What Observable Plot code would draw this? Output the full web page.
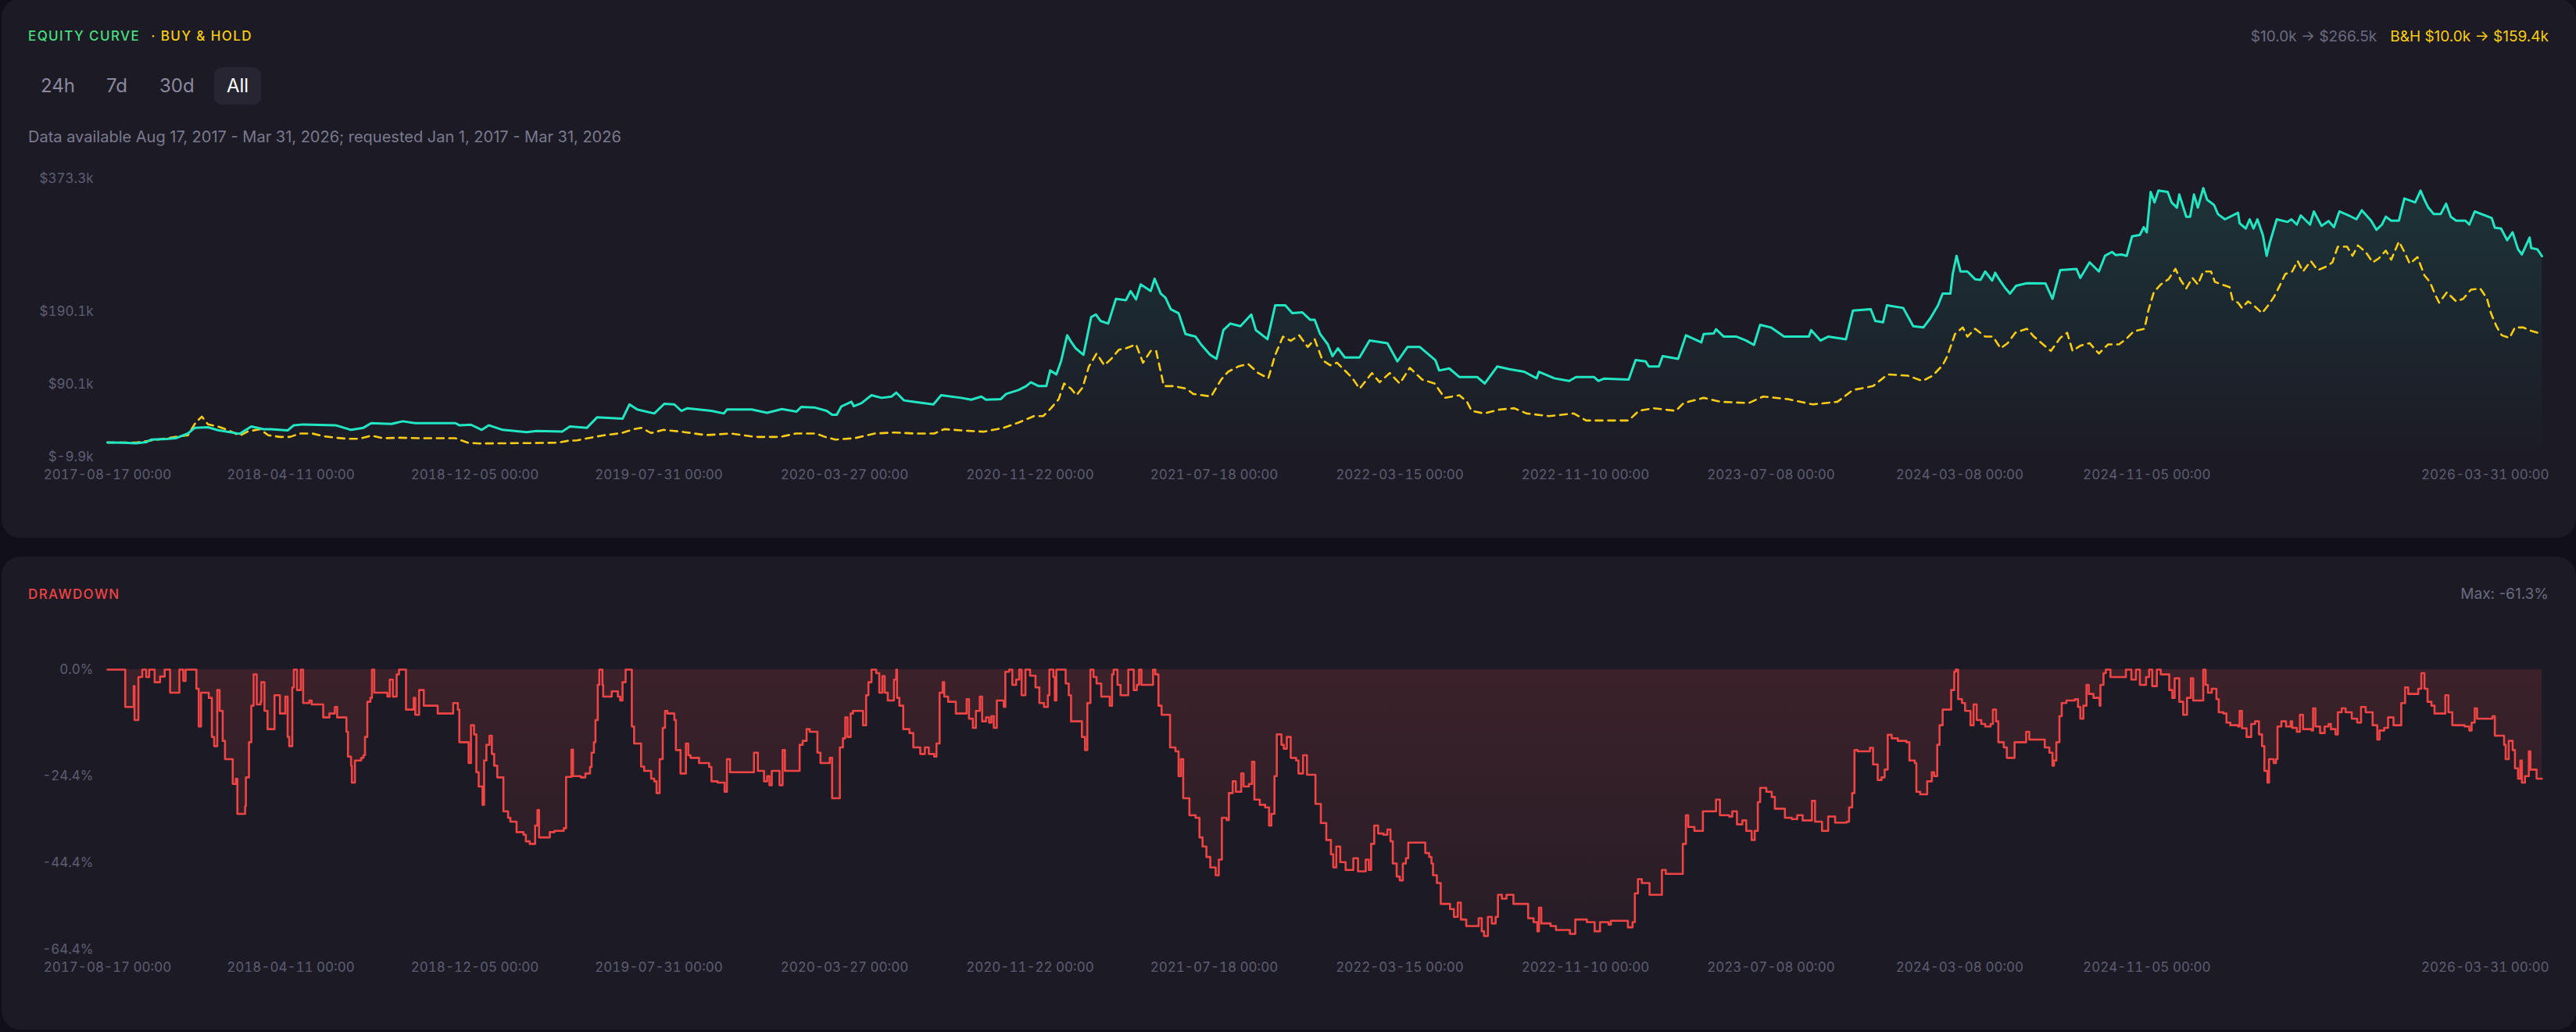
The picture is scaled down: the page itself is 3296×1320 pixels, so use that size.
<!DOCTYPE html>
<html>
<head>
<meta charset="utf-8">
<script src="https://cdn.jsdelivr.net/npm/d3@7"></script>
<script src="https://cdn.jsdelivr.net/npm/@observablehq/plot@0.6"></script>
<style>
  html, body { margin: 0; padding: 0; background: #111019; overflow: hidden; }
  body { width: 3296px; height: 1320px; position: relative; font-family: Inter, "Noto Sans", sans-serif; }
  .panel { position: absolute; left: 2px; width: 3294px; background: #1c1b25; border-radius: 24px; }
  .abs { position: absolute; white-space: nowrap; }
  .title { font-size: 17px; line-height: 18px; letter-spacing: 1.4px; font-weight: 500; }
  .btn { position: absolute; top: 86px; height: 48px; line-height: 48px; padding: 0 16px; font-size: 24px; color: #8a899e; border-radius: 10px; box-sizing: border-box; }
  .btn.active { background: #262531; color: #ffffff; }
  .plotwrap { position: absolute; left: 0; }
</style>
</head>
<body>
<div class="panel" style="top:-2px;height:690px;"></div>
<div class="panel" style="top:712px;height:605px;"></div>

<div class="abs title" style="left:36px;top:37px;"><span style="color:#4ade80">EQUITY CURVE</span><span style="color:#facc15;margin-left:14px">· BUY &amp; HOLD</span></div>
<div class="abs" style="right:35px;top:37px;font-size:19px;line-height:20px;"><span style="color:#6b6a80">$10.0k → $266.5k</span><span style="color:#facc15;margin-left:17px">B&amp;H $10.0k → $159.4k</span></div>

<div class="btn" style="left:36px;">24h</div>
<div class="btn" style="left:120px;">7d</div>
<div class="btn" style="left:188px;">30d</div>
<div class="btn active" style="left:274px;">All</div>

<div class="abs" style="left:36px;top:164px;font-size:20px;line-height:22px;color:#7a798e;">Data available Aug 17, 2017 - Mar 31, 2026; requested Jan 1, 2017 - Mar 31, 2026</div>

<div class="abs title" style="left:36px;top:751px;color:#ef4444;">DRAWDOWN</div>
<div class="abs" style="right:35px;top:750px;font-size:19px;line-height:20px;color:#6b6a80;">Max: -61.3%</div>

<div id="equity" class="plotwrap" style="top:200px;"></div>
<div id="drawdown" class="plotwrap" style="top:820px;"></div>

<script>
// ---------- DATA (days since 2017-08-17) ----------
const startDate = "2017-08-17";

const strategyDays = [0,21,37,50,57,76,88,104,113,130,143,171,186,202,212,233,241,253,295,315,331,341,367,382,398,450,455,470,484,493,511,542,555,588,598,620,633,666,675,685,707,720,733,742,750,781,797,801,833,853,872,891,897,914,930,937,943,949,962,965,975,988,1001,1014,1020,1030,1043,1068,1078,1104,1117,1130,1136,1155,1162,1178,1188,1194,1204,1214,1219,1227,1233,1241,1246,1252,1262,1272,1278,1284,1294,1304,1317,1323,1330,1336,1349,1354,1362,1368,1375,1385,1394,1407,1414,1426,1434,1443,1452,1465,1479,1485,1500,1510,1523,1532,1545,1555,1561,1568,1578,1584,1591,1600,1619,1632,1655,1668,1681,1697,1717,1722,1735,1748,1771,1781,1797,1813,1832,1848,1851,1871,1890,1899,1922,1928,1935,1967,1976,1989,1993,2006,2011,2031,2041,2061,2064,2077,2080,2090,2106,2119,2129,2137,2151,2168,2200,2203,2215,2225,2248,2257,2280,2286,2296,2301,2322,2335,2348,2357,2367,2373,2383,2386,2391,2396,2405,2415,2422,2428,2437,2441,2446,2453,2460,2468,2482,2506,2515,2525,2546,2551,2563,2575,2583,2592,2597,2604,2611,2618,2628,2633,2637,2642,2647,2652,2664,2669,2676,2679,2688,2693,2698,2703,2710,2715,2724,2729,2738,2755,2757,2765,2770,2775,2780,2787,2792,2796,2805,2819,2824,2831,2836,2848,2853,2863,2872,2879,2886,2898,2908,2915,2927,2934,2941,2946,2953,2963,2970,2984,2991,2996,3001,3008,3017,3024,3030,3037,3049,3054,3061,3083,3087,3095,3103,3110,3117,3122,3132,3134,3142,3148];
const strategyEquityK = [10.0,9.8,9.0,10.5,14.1,14.8,15.9,22.4,30.3,31.0,27.0,22.0,32.0,28.4,28.4,26.7,33.8,34.9,33.8,27.4,30.3,36.7,35.6,39.2,36.7,36.7,33.8,34.5,27.4,33.8,27.4,24.2,26.0,25.2,32.0,30.3,44.6,42.8,62.5,55.4,50.0,63.3,62.5,53.6,57.2,53.6,50.0,55.4,55.4,51.0,56.0,52.5,59.0,58.3,53.6,48.2,48.2,59.7,66.1,60.0,64.3,75.1,71.5,73.3,78.7,68.0,66.1,62.5,75.1,71.5,69.0,73.3,69.0,69.7,76.9,82.3,87.7,93.0,87.7,87.7,109.2,103.8,121.7,157.6,148.7,139.7,130.7,182.7,186.3,177.4,173.8,207.8,206.0,218.6,207.0,227.6,218.6,235.5,215.0,209.6,193.5,188.1,159.4,155.8,145.1,130.7,125.3,164.8,173.8,170.2,186.3,164.8,152.2,198.9,198.9,188.1,189.2,179.1,179.1,159.4,145.1,128.9,139.7,127.1,127.1,150.4,146.8,121.7,141.5,141.5,123.5,109.2,112.0,100.2,100.2,91.3,114.6,111.0,107.4,98.4,107.4,98.4,94.8,100.2,100.2,94.8,98.0,96.6,123.5,121.7,114.6,114.6,128.9,125.3,157.6,147.9,159.4,160.1,165.9,155.8,156.0,150.4,144.3,172.0,168.4,155.8,155.8,164.8,150.4,155.8,152.2,191.7,193.5,177.3,175.6,198.9,195.3,170.2,168.4,180.9,198.9,215.0,215.0,242.0,267.1,245.5,245.5,234.8,234.0,245.5,233.0,243.7,234.8,224.0,215.0,225.8,229.4,229.0,207.8,247.3,249.1,236.6,258.1,245.5,267.1,272.4,268.0,268.9,267.0,294.0,295.8,306.5,299.4,355.0,340.6,356.8,355.0,340.6,333.4,351.4,320.9,320.9,351.4,333.4,360.3,344.2,337.0,324.5,317.3,326.3,311.9,304.7,317.3,304.7,317.3,295.8,267.1,285.0,317.3,313.7,317.3,310.1,322.7,310.1,328.1,308.3,315.0,306.5,328.1,322.7,317.3,329.8,315.5,302.9,310.1,320.9,315.5,315.5,346.0,340.6,356.8,344.2,333.4,324.5,324.5,338.8,320.9,315.5,315.5,310.1,328.1,319.1,305.8,304.7,288.6,299.4,276.0,268.9,292.2,277.8,276.0,266.5];

const holdDays = [0,37,65,88,104,114,122,130,143,157,171,181,197,208,223,236,249,265,281,295,310,326,341,357,378,403,450,466,481,560,583,595,607,639,665,681,690,703,719,742,774,806,838,870,890,916,928,941,966,992,1018,1043,1069,1082,1114,1133,1159,1178,1198,1210,1220,1230,1237,1246,1253,1261,1269,1279,1289,1298,1308,1317,1330,1339,1349,1356,1366,1379,1395,1404,1427,1440,1449,1462,1475,1488,1501,1510,1520,1530,1541,1552,1561,1571,1581,1590,1600,1610,1619,1635,1645,1658,1671,1684,1700,1716,1729,1748,1758,1764,1780,1800,1819,1835,1864,1896,1912,1967,1980,1999,2028,2038,2064,2086,2122,2141,2173,2205,2237,2257,2283,2302,2328,2347,2360,2373,2379,2389,2399,2405,2415,2428,2438,2448,2457,2467,2482,2491,2501,2513,2525,2534,2541,2551,2563,2575,2587,2601,2610,2620,2634,2639,2646,2655,2665,2674,2681,2688,2696,2703,2710,2720,2725,2734,2744,2748,2755,2760,2768,2777,2786,2794,2801,2808,2816,2825,2832,2839,2849,2858,2870,2877,2884,2896,2903,2910,2920,2929,2937,2946,2953,2963,2970,2977,2987,2996,3003,3010,3015,3025,3037,3046,3056,3068,3077,3082,3089,3096,3106,3113,3124,3131,3148];
const holdEquityK = [10.0,10.0,14.0,17.7,20.0,37.4,45.7,35.0,32.0,26.7,19.5,25.0,28.4,20.0,17.7,17.7,22.4,22.4,18.4,16.6,15.2,15.2,19.5,15.9,16.6,15.9,15.9,9.8,8.7,9.4,9.8,12.3,13.0,19.5,23.1,28.4,30.2,23.1,27.4,24.9,20.2,22.4,17.7,17.7,22.4,22.4,17.7,14.1,15.9,22.4,23.8,22.4,22.4,28.4,26.0,24.9,30.3,37.4,46.4,46.4,57.2,69.7,91.3,84.1,75.1,85.9,114.6,132.5,116.4,125.3,137.9,139.7,145.1,119.9,136.1,136.1,87.7,87.7,84.1,76.9,73.3,96.6,107.4,114.6,118.2,105.6,98.4,130.7,155.8,150.0,157.6,141.5,152.2,123.5,116.4,119.9,109.2,98.4,84.1,105.6,93.0,105.6,91.3,112.8,96.6,91.3,71.5,75.1,66.1,53.6,50.0,55.4,57.2,50.0,46.4,50.0,40.3,40.3,53.6,57.2,53.6,64.3,71.5,66.1,64.3,73.3,69.7,62.5,66.1,82.3,87.7,103.8,102.0,94.8,102.0,116.4,128.9,159.4,168.4,155.8,166.6,155.8,155.8,139.7,146.8,161.2,166.6,155.8,146.8,136.1,154.0,161.2,136.1,143.3,146.8,132.5,145.1,145.1,152.2,163.0,166.6,191.7,216.8,227.6,234.8,249.1,233.0,222.2,236.6,227.6,245.5,245.5,231.2,227.6,224.0,206.0,202.5,195.3,204.3,197.1,188.1,198.9,209.6,224.0,241.9,245.5,259.9,245.5,259.9,247.3,252.7,258.1,279.6,279.6,267.1,281.4,272.4,258.1,263.5,274.2,261.7,286.8,272.4,256.3,265.3,240.1,231.2,213.2,202.5,216.8,204.3,207.8,220.4,222.2,207.8,188.1,170.2,157.6,154.0,168.4,168.4,164.8,159.4];

const drawdownDays = [0,23,34,35,40,45,50,54,61,68,74,81,93,98,101,115,118,121,131,135,138,142,145,149,152,162,166,168,178,179,183,186,189,193,198,199,203,207,216,223,230,233,235,239,241,245,250,253,261,264,279,287,294,297,309,311,315,316,320,328,331,333,336,340,342,345,362,365,369,374,377,386,396,398,403,409,427,447,453,455,467,470,474,477,480,485,487,490,494,497,500,504,512,518,521,529,538,541,546,553,556,558,572,578,590,593,600,602,612,618,624,626,629,631,634,636,640,641,652,660,663,666,670,678,681,690,694,703,707,710,714,718,721,724,733,735,741,748,751,754,765,778,781,789,798,801,805,836,841,849,853,856,859,869,873,876,895,899,904,908,918,922,934,937,947,951,954,957,961,964,977,981,984,988,994,998,1002,1005,1009,1017,1020,1021,1024,1029,1037,1042,1051,1057,1062,1069,1072,1076,1080,1082,1087,1097,1111,1114,1119,1123,1128,1131,1136,1140,1143,1146,1150,1159,1161,1166,1170,1175,1179,1182,1187,1193,1200,1205,1211,1216,1218,1223,1225,1227,1239,1243,1246,1260,1264,1267,1271,1275,1279,1285,1296,1299,1301,1306,1310,1320,1327,1331,1334,1337,1352,1355,1359,1363,1374,1381,1385,1388,1391,1399,1407,1412,1416,1421,1426,1433,1437,1441,1447,1450,1455,1459,1466,1469,1476,1480,1483,1490,1497,1502,1505,1509,1512,1518,1521,1525,1530,1537,1540,1546,1551,1562,1569,1576,1582,1585,1589,1594,1601,1611,1617,1627,1631,1634,1638,1643,1650,1655,1659,1662,1667,1671,1675,1679,1682,1704,1709,1712,1714,1719,1724,1736,1741,1746,1750,1757,1773,1777,1780,1785,1790,1795,1798,1803,1809,1818,1837,1844,1849,1851,1854,1866,1873,1891,1898,1913,1923,1930,1941,1944,1966,1972,1975,1979,1984,1994,2010,2015,2037,2041,2044,2052,2063,2080,2085,2097,2101,2107,2114,2119,2126,2130,2134,2137,2145,2152,2156,2169,2178,2185,2192,2204,2208,2217,2225,2234,2249,2252,2256,2259,2263,2279,2283,2289,2294,2298,2302,2307,2315,2326,2330,2337,2339,2344,2353,2359,2362,2366,2369,2373,2384,2388,2390,2393,2398,2402,2409,2413,2417,2423,2428,2435,2438,2442,2445,2452,2456,2466,2481,2485,2505,2511,2515,2517,2520,2524,2527,2533,2544,2548,2551,2555,2559,2562,2568,2576,2577,2581,2584,2590,2610,2617,2623,2628,2636,2640,2644,2650,2655,2666,2670,2673,2679,2684,2689,2694,2697,2710,2713,2716,2721,2727,2730,2736,2740,2745,2755,2757,2760,2766,2772,2777,2782,2786,2789,2793,2795,2801,2804,2806,2811,2817,2823,2825,2831,2835,2839,2850,2852,2855,2861,2867,2872,2875,2881,2884,2889,2894,2902,2909,2914,2920,2929,2935,2938,2944,2949,2956,2966,2971,2975,2988,2992,2996,3000,3005,3009,3023,3027,3032,3048,3054,3057,3061,3064,3084,3087,3099,3101,3105,3110,3113,3117,3120,3122,3126,3131,3133,3141,3148];
const drawdownPct = [0,-8.6,-3.8,-11.6,-1.7,0,-1.7,0,-2.9,-1.6,0,-5.3,0,-2.6,0,-4.4,-13.1,-5.3,-6.5,-15.5,-17.6,-4.7,-9.5,-16.4,-20.6,-26.3,-25.1,-33.2,-31.4,-24.8,-16.7,-8.3,-1.1,-8,-7.4,-2.9,-9.5,-13.7,-5.9,-10.1,-6.2,-15.5,-17.6,-4.1,0,-4.7,0,-7.7,-7.1,-8,-11,-10.1,-8.6,-11,-14.3,-20,-22.1,-26,-20.9,-20.3,-19.7,-15.5,-7.4,-6.5,0,-5.3,-6.2,-2.3,-6.2,-1.1,0,-9.2,-6.5,-10.4,-4.7,-8.3,-10.1,-7.7,-9.2,-16.7,-21.5,-12.8,-14.9,-23.6,-26.9,-31.1,-20.9,-17.3,-15.2,-19.4,-22.1,-24.8,-32.6,-34.1,-35,-37.4,-38,-39.5,-40.1,-35.9,-32.3,-38.6,-37.4,-37.1,-36.5,-24.7,-18.4,-24.5,-24.8,-23.9,-22.4,-19.1,-16.7,-11.6,-3.5,0,-3.5,-6.2,-5,-6.2,-7.1,-2.9,0,-13.1,-17,-22.3,-23.3,-25.1,-25.7,-28.4,-20.6,-13.4,-9.5,-10.1,-11.6,-18.5,-23.9,-17,-19.7,-20.3,-21.5,-22.4,-25.7,-26,-28.1,-20.6,-23.6,-19.1,-23.3,-25.7,-24.5,-26.6,-23.3,-26.6,-18.5,-23.3,-17.3,-16.4,-13.7,-14.3,-19.1,-21.5,-20.3,-29.6,-17.9,-15.8,-11,-15.5,-10.1,-9.5,-12.8,-5.9,-2.9,0,-0.8,-5.3,-1.5,-5.3,-7.1,-2.3,0,-6.5,-8.3,-13.7,-14.6,-17.9,-19.4,-17.9,-19.4,-20,-17,-5.3,-2.9,-6.2,-7.4,-10.1,-6.8,-11.3,-13.4,-9.5,-6.2,-11.9,-11,-12.2,-10.7,-13.4,-7.1,-8.6,-0.5,0,-3.5,-2.3,0,-5.9,0,-1.4,-4.1,-7.7,-8.6,-5.9,0,-1.7,-7.1,0,-3.2,-5.9,-11.9,-15.5,-18.5,-7.7,0,-1.7,-3.2,-6.2,-8.3,-1.1,0,-3.5,-5.9,0,-4.7,-3.5,0,-3.5,0,-1.1,-8.3,-10.4,-17.9,-18.8,-24.5,-20.6,-29.6,-33.5,-34.1,-38.6,-40.7,-43.1,-45.5,-47.3,-43.7,-34.1,-34.6,-28.4,-25.7,-28.1,-23.9,-26.9,-26.3,-21.2,-29.9,-31.1,-31.7,-35.9,-33.2,-24.5,-14.9,-17.3,-18.2,-15.5,-20.3,-20.9,-23.9,-19.7,-24.2,-30.9,-35.3,-39.2,-42.5,-45.5,-40.7,-44.3,-46.1,-43.4,-46.4,-43.7,-46.1,-40.1,-35.9,-37.7,-38,-36.8,-39.5,-44.6,-47.6,-48.5,-44.6,-43.4,-39.8,-42.2,-43.1,-44.6,-47.3,-49.1,-53.9,-55.1,-56.9,-53.6,-57.5,-59,-57.2,-60.2,-61.3,-56.9,-58.4,-56.9,-51.8,-52.7,-51.8,-53.9,-57.2,-58.1,-60.2,-54.8,-58.4,-59,-59.9,-60.8,-57.5,-58.1,-60.2,-58.1,-58.7,-57.8,-59.3,-58.1,-51.5,-48.2,-49.1,-51.8,-46.1,-47,-40.1,-33.5,-36.2,-37.1,-32.6,-29.9,-33.5,-33.8,-32.6,-35.6,-34.7,-37.1,-39.2,-37.1,-30.5,-27.2,-28.1,-29.3,-32,-34.1,-34.4,-33.5,-34.7,-30.2,-35,-37.1,-33.8,-35.2,-35,-31.7,-28.4,-18.5,-18.8,-18,-21.8,-25.4,-24.8,-23,-15,-15.8,-16.4,-16.7,-20.9,-21.5,-28.1,-28.7,-25.7,-23.6,-24.5,-17.3,-12.8,-9.2,-4.7,-0.5,0,-6.8,-7.7,-9.5,-12.8,-8,-11.6,-12.5,-13.1,-12.5,-9.2,-11.9,-16.7,-17.9,-20.3,-16.7,-14.3,-16.1,-17.9,-19.1,-22.1,-20.9,-16.7,-10.7,-7.7,-7.1,-6.8,-8.6,-11.3,-8.3,-3.5,-5.6,-6.5,-8.3,-3.5,-0.8,0,-1.7,0,-2.3,0,-3.5,-1.7,0,-3.8,0,-1.1,-4.7,-6.5,-2,-7.4,-10.4,-6.5,-2,-7.1,0,-3.5,-5.3,-4.4,-6.8,-9.8,-10.1,-12.2,-12.8,-13.1,-9.5,-13.5,-15.5,-12.5,-11.9,-14.9,-17.6,-23.3,-26,-20.6,-21.5,-20.6,-13.1,-11.9,-13.1,-11.9,-13.4,-14.3,-10.4,-13.7,-14,-8.9,-13.1,-14.6,-13.1,-12.5,-13.7,-14.9,-9.8,-8.9,-9.8,-11.3,-12.2,-8.6,-9.8,-12.8,-16.1,-14,-13.4,-11,-12.8,-7.7,-4.1,-5.6,-4.4,-0.8,-4.4,-7.4,-8.3,-10.1,-5.9,-9.8,-12.8,-13.1,-14,-12.2,-8.9,-11.3,-10.7,-15.2,-17.3,-20.6,-16.4,-18.5,-22.7,-25.1,-20.9,-26,-24.5,-18.8,-23,-25.1,-25.1];

const xTickLabels = ["2017-08-17 00:00","2018-04-11 00:00","2018-12-05 00:00","2019-07-31 00:00","2020-03-27 00:00","2020-11-22 00:00","2021-07-18 00:00","2022-03-15 00:00","2022-11-10 00:00","2023-07-08 00:00","2024-03-08 00:00","2024-11-05 00:00","2026-03-31 00:00"];
const equityTicksK = [-9.9, 90.1, 190.1, 373.3];
const drawdownTicks = [0, -24.4, -44.4, -64.4];

// ---------- build ----------
const day0 = d3.utcParse("%Y-%m-%d")(startDate);
const toDate = d => d3.utcDay.offset(day0, d);
const parseTick = s => d3.utcParse("%Y-%m-%d")(s.slice(0, 10));
const tickDates = xTickLabels.map(parseTick);
const labelOf = new Map(xTickLabels.map(s => [+parseTick(s), s]));
const fmtX = d => labelOf.get(+d) ?? "";
const lastTick = tickDates[tickDates.length - 1];
const mainTicks = tickDates.slice(0, -1);

const strategy = strategyDays.map((d, i) => ({date: toDate(d), v: strategyEquityK[i]}));
const hold = holdDays.map((d, i) => ({date: toDate(d), v: holdEquityK[i]}));
const dd = drawdownDays.map((d, i) => ({date: toDate(d), v: drawdownPct[i]}));

const W = 3296;
const xDomain = [toDate(0), toDate(3148)];
const axisColor = "#5e5d73";
const common = {
  width: W,
  marginLeft: 137,
  marginRight: 44,
  style: {background: "transparent", color: axisColor, fontFamily: "Inter, 'Noto Sans', sans-serif", fontSize: "17px", overflow: "visible"}
};

const eqMin = d3.min(equityTicksK), eqMax = d3.max(equityTicksK);
const equityPlot = Plot.plot({
  ...common,
  height: 424,
  marginTop: 28,
  marginBottom: 40,
  x: {type: "utc", domain: xDomain},
  y: {domain: [eqMin, eqMax]},
  marks: [
    Plot.areaY(strategy, {x: "date", y1: eqMin, y2: "v", fill: "url(#eqGrad)"}),
    Plot.line(hold, {x: "date", y: "v", stroke: "#facc15", strokeWidth: 2.6, strokeDasharray: "9,7"}),
    Plot.line(strategy, {x: "date", y: "v", stroke: "#22e6c3", strokeWidth: 3}),
    Plot.axisY({ticks: equityTicksK, tickSize: 0, tickPadding: 18, tickFormat: v => `$${v.toFixed(1)}k`, label: null, fill: axisColor}),
    Plot.axisX({ticks: mainTicks, tickSize: 0, tickPadding: 16, tickFormat: fmtX, label: null, fill: axisColor}),
    Plot.axisX({ticks: [lastTick], tickSize: 0, tickPadding: 16, tickFormat: fmtX, label: null, textAnchor: "end", dx: 9, fill: axisColor})
  ]
});

const ddMin = d3.min(drawdownTicks), ddMax = d3.max(drawdownTicks);
const ddPlot = Plot.plot({
  ...common,
  height: 434,
  marginTop: 36,
  marginBottom: 40,
  x: {type: "utc", domain: xDomain},
  y: {domain: [ddMin, ddMax]},
  marks: [
    Plot.areaY(dd, {x: "date", y1: 0, y2: "v", curve: "step-after", fill: "url(#ddGrad)"}),
    Plot.line(dd, {x: "date", y: "v", curve: "step-after", stroke: "#ef4444", strokeWidth: 2.6}),
    Plot.axisY({ticks: drawdownTicks, tickSize: 0, tickPadding: 18, tickFormat: v => `${v.toFixed(1)}%`, label: null, fill: axisColor}),
    Plot.axisX({ticks: mainTicks, tickSize: 0, tickPadding: 16, tickFormat: fmtX, label: null, fill: axisColor}),
    Plot.axisX({ticks: [lastTick], tickSize: 0, tickPadding: 16, tickFormat: fmtX, label: null, textAnchor: "end", dx: 9, fill: axisColor})
  ]
});

const defsEq = `<defs><linearGradient id="eqGrad" x1="0" y1="0" x2="0" y2="1"><stop offset="0" stop-color="#22e6c3" stop-opacity="0.12"/><stop offset="1" stop-color="#22e6c3" stop-opacity="0"/></linearGradient></defs>`;
const defsDd = `<defs><linearGradient id="ddGrad" x1="0" y1="0" x2="0" y2="1"><stop offset="0" stop-color="#ef4444" stop-opacity="0.15"/><stop offset="1" stop-color="#ef4444" stop-opacity="0.05"/></linearGradient></defs>`;
equityPlot.insertAdjacentHTML("afterbegin", defsEq);
ddPlot.insertAdjacentHTML("afterbegin", defsDd);

document.getElementById("equity").appendChild(equityPlot);
document.getElementById("drawdown").appendChild(ddPlot);
</script>
</body>
</html>
